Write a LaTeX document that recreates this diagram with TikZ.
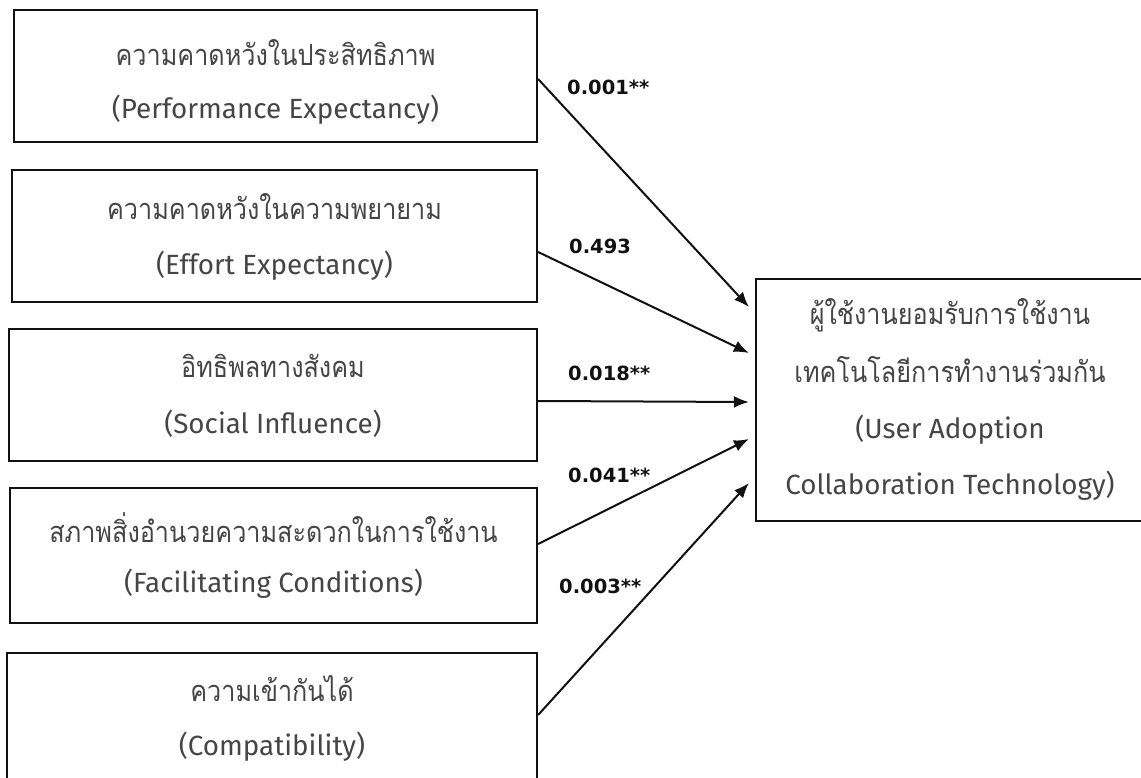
\documentclass[tikz,border=0pt]{standalone}
\usepackage{fontspec}
\usetikzlibrary{arrows.meta,calc}
\newfontfamily\thaifont[Script=Thai,FakeStretch=0.87]{Loma}
\newfontfamily\latfont{Fira Sans}
\newfontfamily\numfont{DejaVu Sans}
\definecolor{txtgray}{HTML}{454545}
\definecolor{linecol}{HTML}{111111}
\tikzset{
  box/.style={draw=linecol, line width=2.2pt, inner sep=0pt},
  th/.style={font=\thaifont\fontsize{29}{29}\selectfont, text=txtgray, inner sep=0pt},
  en/.style={font=\latfont\fontsize{27.8}{27.8}\selectfont, text=txtgray, inner sep=0pt},
  coef/.style={font=\numfont\bfseries\fontsize{19.5}{19.5}\selectfont, text=linecol, inner sep=0pt},
  link/.style={draw=linecol, line width=2pt, -{Latex[length=15pt,width=12pt]}},
}
\begin{document}
\begin{tikzpicture}[x=1pt,y=-1pt]
\useasboundingbox (0,0) rectangle (1141,778);
% boxes
\node[box, minimum width=523pt, minimum height=132pt] (b1) at (275.5,76) {};
\node[box, minimum width=525pt, minimum height=132pt] (b2) at (274.5,236) {};
\node[box, minimum width=528pt, minimum height=132pt] (b3) at (273,395) {};
\node[box, minimum width=527pt, minimum height=135pt] (b4) at (273.5,555.5) {};
\node[box, minimum width=530pt, minimum height=150pt] (b5) at (272,728) {};
\node[box, minimum width=410pt, minimum height=242pt] (out) at (961,400) {};
% texts
\node[th] (t1a) at (275.5,53) {ความคาดหวังในประสิทธิภาพ};
\node[en] (t1b) at (275.5,110) {(Performance Expectancy)};
\node[th] (t2a) at (274.5,207) {ความคาดหวังในความพยายาม};
\node[en] (t2b) at (274.5,266) {(Effort Expectancy)};
\node[th] (t3a) at (273,366) {อิทธิพลทางสังคม};
\node[en] (t3b) at (273,424) {(Social Influence)};
\node[th] (t4a) at (273.5,528) {สภาพสิ่งอำนวยความสะดวกในการใช้งาน};
\node[en] (t4b) at (273.5,584) {(Facilitating Conditions)};
\node[th] (t5a) at (272,689) {ความเข้ากันได้};
\node[en] (t5b) at (272,747) {(Compatibility)};
\node[th] (o1) at (950,315) {ผู้ใช้งานยอมรับการใช้งาน};
\node[th] (o2) at (950,370) {เทคโนโลยีการทำงานร่วมกัน};
\node[en] (o3) at (950,430) {(User Adoption};
\node[en] (o4) at (950,486) {Collaboration Technology)};
% arrows
\draw[link] ($(b1.east)+(0,3)$) -- ($(out.west)+(-6,-93)$);
\draw[link] ($(b2.east)+(0,16)$) -- ($(out.west)+(-6,-47)$);
\draw[link] ($(b3.east)+(0,6)$) -- ($(out.west)+(-6,2)$);
\draw[link] ($(b4.east)+(0,-11.5)$) -- ($(out.west)+(-6,39)$);
\draw[link] ($(b5.east)+(0,-13)$) -- ($(out.west)+(-6,83)$);
% coefficients
\node[coef, anchor=west] (c1) at (567,87) {0.001**};
\node[coef, anchor=west] (c2) at (569,246) {0.493};
\node[coef, anchor=west] (c3) at (568,373) {0.018**};
\node[coef, anchor=west] (c4) at (568,475) {0.041**};
\node[coef, anchor=west] (c5) at (559,586) {0.003**};
\end{tikzpicture}
\end{document}
